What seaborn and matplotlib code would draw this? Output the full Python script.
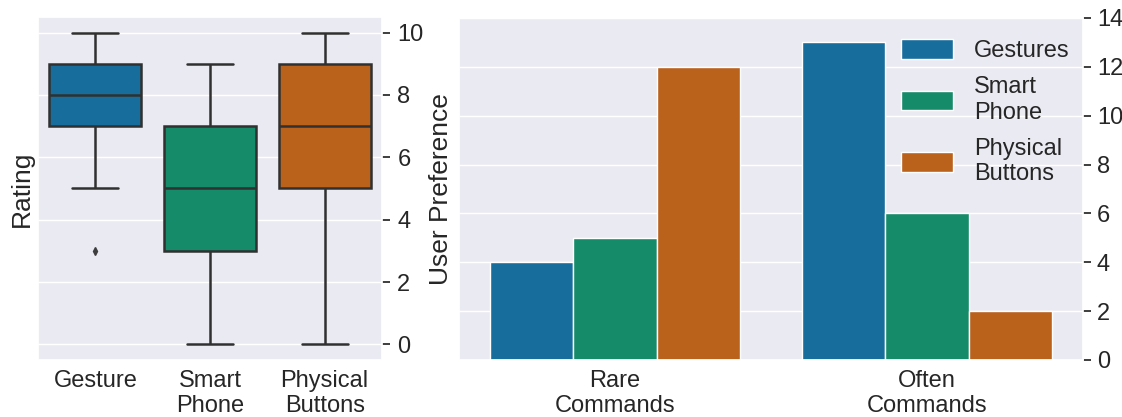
import numpy as np
import pandas as pd
import matplotlib
matplotlib.use("Agg")
import matplotlib.pyplot as plt
import seaborn as sns

# Ratings per input method (individual responses)
methods = ["Gesture", "Smart\nPhone", "Physical\nButtons"]
gesture_ratings = [3, 5, 7, 7, 7, 8, 8, 8, 9, 9, 9, 10]
phone_ratings = [0, 2, 3, 3, 4, 5, 5, 6, 7, 7, 8, 9]
buttons_ratings = [0, 3, 5, 5, 6, 7, 7, 8, 9, 9, 9, 10]

# Preference counts by command frequency
frequencies = ["Rare\nCommands", "Often\nCommands"]
pref_labels = ["Gestures", "Smart\nPhone", "Physical\nButtons"]
pref_gestures = [4, 13]
pref_phone = [5, 6]
pref_buttons = [12, 2]

rating_ticks = [0, 2, 4, 6, 8, 10]
pref_ticks = [0, 2, 4, 6, 8, 10, 12, 14]

sns.set_theme(style="darkgrid")
plt.rcParams["font.family"] = ["Liberation Sans", "DejaVu Sans"]
FS = 17
LFS = 19

cb = sns.color_palette("colorblind")
palette = [cb[0], cb[2], cb[3]]

ratings = pd.DataFrame({
    "Method": [methods[0]] * len(gesture_ratings)
    + [methods[1]] * len(phone_ratings)
    + [methods[2]] * len(buttons_ratings),
    "Rating": gesture_ratings + phone_ratings + buttons_ratings,
})

prefs = pd.DataFrame({
    "Frequency": frequencies * 3,
    "Method": [pref_labels[0]] * 2 + [pref_labels[1]] * 2 + [pref_labels[2]] * 2,
    "Count": pref_gestures + pref_phone + pref_buttons,
})

W, H = 1122, 417
fig = plt.figure(figsize=(W / 100, H / 100), dpi=100)
ax1 = fig.add_axes([38 / W, 1 - 360 / H, (382 - 38) / W, (360 - 17) / H])
ax2 = fig.add_axes([459 / W, 1 - 360 / H, (1083 - 459) / W, (360 - 18) / H])

sns.boxplot(data=ratings, x="Method", y="Rating", hue="Method", palette=palette,
            order=methods, legend=False, ax=ax1, linewidth=1.8,
            flierprops=dict(marker="d", markersize=4, markerfacecolor="#3d3d3d",
                            markeredgecolor="#3d3d3d"))
ax1.set_xlabel("")
ax1.set_ylabel("Rating", fontsize=LFS, labelpad=3)
ax1.yaxis.tick_right()
ax1.yaxis.set_label_position("left")
ax1.set_yticks(rating_ticks)
ax1.tick_params(axis="y", labelsize=FS, pad=5)
ax1.tick_params(axis="x", labelsize=FS, pad=1)

sns.barplot(data=prefs, x="Frequency", y="Count", hue="Method", palette=palette,
            order=frequencies, hue_order=pref_labels, ax=ax2)
ax2.set_xlabel("")
ax2.set_ylabel("User Preference", fontsize=LFS, labelpad=4)
ax2.yaxis.tick_right()
ax2.yaxis.set_label_position("left")
ax2.set_ylim(0, 14)
ax2.set_yticks(pref_ticks)
ax2.tick_params(axis="y", labelsize=FS, pad=4)
ax2.tick_params(axis="x", labelsize=FS, pad=1)
ax2.legend(loc="upper right", frameon=False, fontsize=FS, handlelength=2.2,
           handleheight=0.9, handletextpad=0.9, labelspacing=0.6,
           bbox_to_anchor=(1.013, 1.0))

fig.savefig("out.png", dpi=100)
